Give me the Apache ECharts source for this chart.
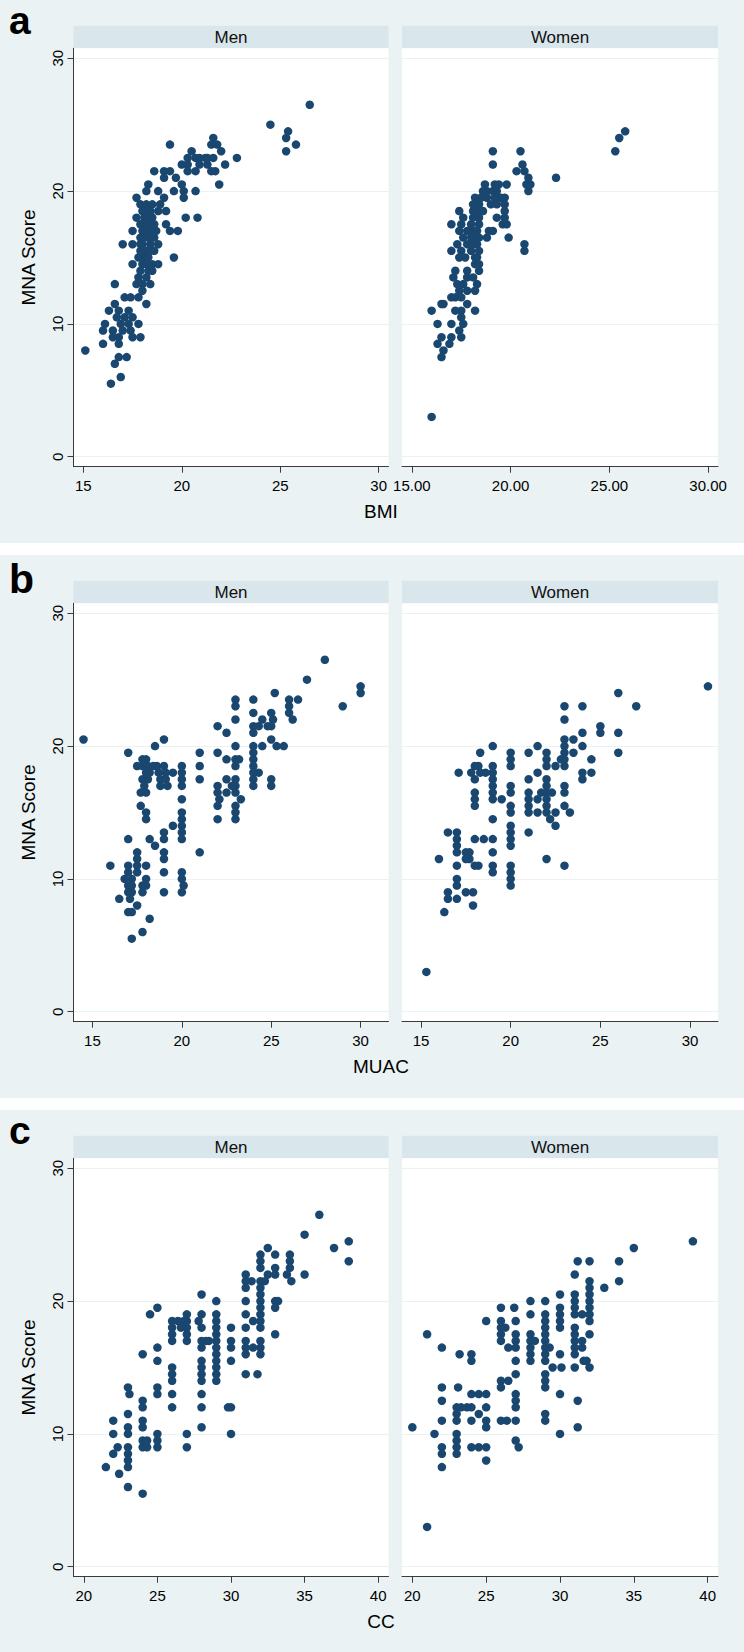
<!DOCTYPE html>
<html><head><meta charset="utf-8">
<script src="https://cdn.jsdelivr.net/npm/echarts@6/dist/echarts.min.js"></script>
<style>html,body{margin:0;padding:0;background:#fff}#c{width:744px;height:1652px}</style>
</head><body><div id="c"></div>
<script>
// ---------- DATA ----------
const bmiMen = [[24.5,25],[19.4,23.5],[21.6,24],[21.5,23.5],[21.8,23.5],[22.0,23],[20.5,23],[22.8,22.5],
[20.3,22.5],[20.7,22.5],[20.9,22.5],[21.2,22.5],[21.3,22.5],[21.6,22.5],
[20.0,22],[20.3,22],[20.9,22],[21.3,22],[22.2,22],
[18.6,21.5],[19.1,21.5],[19.4,21.5],[20.3,21.5],[20.7,21.5],[21.5,21.5],[21.7,21.5],
[19.1,21],[19.7,21],[18.3,20.5],[20.0,20.5],[21.9,20.5],
[18.2,20],[18.8,20],[19.6,20],[20.1,20],[20.7,20],
[17.7,19.5],[19.1,19.5],[20.1,19.5],[17.9,19],[18.2,19],[18.5,19],[18.9,19],
[18.0,18.5],[18.3,18.5],[18.4,18.5],[18.8,18.5],[19.2,18.5],
[17.7,18],[18.1,18],[18.2,18],[18.5,18],[20.2,18],[20.8,18],
[17.9,17.5],[18.0,17.5],[18.3,17.5],[18.6,17.5],[19.2,17.5],
[17.5,17],[18.0,17],[18.2,17],[18.4,17],[18.7,17],[19.4,17],[19.8,17],
[17.9,16.5],[18.1,16.5],[18.3,16.5],[18.6,16.5],
[17.0,16],[17.5,16],[17.9,16],[18.0,16],[18.4,16],[18.8,16],
[17.9,15.5],[18.2,15.5],[18.4,15.5],[18.6,15.5],
[17.8,15],[18.1,15],[18.3,15],[19.6,15],
[17.5,14.5],[18.0,14.5],[18.2,14.5],[18.5,14.5],[18.8,14.5],
[17.9,14],[18.3,14],[18.5,14],[17.8,13.5],[18.2,13.5],
[16.6,13],[17.7,13],[18.0,13],[18.4,13],[18.0,12.5],
[17.1,12],[17.4,12],[17.8,12],[18.2,11.5],[16.6,11.5],
[16.3,11],[16.8,11],[17.3,11],[16.7,10.5],[17.1,10.5],[17.5,10.5],
[16.1,10],[16.9,10],[17.3,10],[17.8,10],
[16.0,9.5],[16.5,9.5],[17.0,9.5],[17.4,9.5],
[16.5,9],[16.8,9],[17.5,9],[17.9,9],[16.0,8.5],[16.8,8.5],
[15.1,8],[16.8,7.5],[17.2,7.5],[16.6,7],[16.9,6],[16.4,5.5],
[25.3,24],[25.4,24.5],[25.3,23],[25.8,23.5],[26.5,26.5]];

const bmiWomen = [[19.1,23],[20.5,23],[19.1,22],[20.6,22],[20.3,21.5],[20.7,21.5],[20.9,21],[20.8,20.5],[21.0,20.5],[20.9,20],[22.3,21],
[18.7,20.5],[19.2,20.5],[19.4,20.5],[19.8,20.5],
[18.6,20],[18.8,20],[19.1,20],[19.3,20],
[18.2,19.5],[18.5,19.5],[18.8,19.5],[19.2,19.5],[19.5,19.5],[19.7,19.5],
[18.1,19],[18.4,19],[19.0,19],[19.3,19],[19.7,19],
[17.4,18.5],[18.1,18.5],[18.2,18.5],[18.3,18.5],[18.6,18.5],[19.7,18.5],
[17.6,18],[18.1,18],[18.4,18],[19.3,18],[19.7,18],
[17.0,17.5],[17.5,17.5],[18.0,17.5],[18.4,17.5],[19.6,17.5],[19.8,17.5],
[17.4,17],[17.8,17],[17.9,17],[18.2,17],[18.3,17],[18.9,17],[19.1,17],
[17.6,16.5],[18.0,16.5],[18.1,16.5],[18.4,16.5],[18.8,16.5],[19.9,16.5],
[17.3,16],[17.8,16],[18.1,16],[18.3,16],[20.7,16],
[17.0,15.5],[17.5,15.5],[18.0,15.5],[18.4,15.5],[20.7,15.5],
[17.4,15],[17.7,15],[18.2,15],[18.3,15],[18.2,14.5],[18.4,14.5],
[17.2,14],[17.8,14],[18.4,14],[17.1,13.5],[17.8,13.5],[18.1,13.5],
[17.3,13],[17.6,13],[18.3,13],[17.4,12.5],[17.8,12.5],[18.2,12.5],
[17.0,12],[17.2,12],[17.5,12],[16.5,11.5],[16.6,11.5],[17.8,11.5],
[16.0,11],[17.2,11],[17.5,11],[18.2,11],[17.5,10.5],
[16.3,10],[17.0,10],[17.6,10],[17.4,9.5],
[16.5,9],[17.0,9],[17.5,9],[16.3,8.5],[16.9,8.5],[16.6,8],[16.5,7.5],
[16.0,3],[25.3,23],[25.5,24],[25.8,24.5]];

const muacMen = [[14.5,20.5],[28,26.5],[27,25],[30,24.5],[30,24],[29,23],[25.2,24],
[16,11],[16.5,8.5],[17,19.5],[17,13],
[17.5,12],[17.5,11.5],[17,11],[17.5,11],[18,11],[16.8,10],[17,10.5],[17.2,10],[17.5,10.5],[18,10],
[17,9.5],[17.2,9.5],[17.8,9.5],[18,9.5],[17,9],[17.2,9],[17.8,9],[17.1,8.5],[17,7.5],[17.2,7.5],[17.5,8],[18.2,7],[17.8,6],[17.2,5.5],
[17.8,19],[18,19],[17.5,18.5],[17.8,18.5],[18.1,18.5],[18.4,18.5],[18.6,18.5],[19,18.5],
[18,18],[18.2,18],[18.7,18],[19.1,18],[19.5,18],[17.8,17.5],[18.1,17.5],[18.8,17.5],[19.1,17.5],
[17.9,17],[18.8,17],[19.2,17],[17.7,16.5],[18,16.5],[17.7,15.5],[18,15],[18,14.5],
[18.5,20],[19,20.5],
[20,18.5],[20,18],[20,17.5],[20,17],[20,16],[20,15],[20,14.5],[20,14],[20,13.5],[20,13],[20,10.5],[20,10],[20.1,9.5],[20,9],
[19.5,14],[19,13.5],[19,13],[19,12],[19,11.5],[19,10.5],[19,9],[18.2,13],[18.5,12.5],
[21,19.5],[21,18.5],[21,17.5],[21,12],
[22,21.5],[22,19.5],[22,17],[22,16.5],[22.1,16],[22,15.5],[22,14.5],
[22.5,21],[22.5,19],[22.5,17.5],[22.5,16.5],
[23,23.5],[23,23],[23,22],[23,20],[23,19],[23,18.5],[23,17.5],[23,17],[23,16.5],[23,15.5],[23,15],[23,14.5],[23.3,16],[22.8,17],[23.2,19],
[24,23.5],[24,22.5],[24,21.5],[24,21],[24,20],[24,19.5],[24,19],[24,18.5],[24,18],[24,17.5],[24,17],[24.3,18],[24.5,20],[24.3,21.5],[24.5,22],[24.8,21.5],
[25,22.5],[25.1,22],[25,21.5],[25,20.5],[25.3,20],[25,17.5],[25,17],[25.7,20],
[26,23.5],[26,23],[26,22.5],[26.2,22],[26.5,23.5]];

const muacWomen = [[15.3,3],[31,24.5],[26,24],[27,23],[26,21],[26,19.5],[25,21.5],[25,21],
[24,23],[24,21],[24,20],[24.5,19],[24,18],[24.5,18],[24,17.5],
[23,23],[23,22],[23,20.5],[23,20],[23,19.5],[23,19],[23,18.5],[23.5,20.5],[23.5,19.5],[23,17],[23,16.5],[23,15.5],[23.3,15],[23,11],
[22.8,19],[22.5,18.5],
[22,19.5],[22,19],[22,18.5],[22,17.5],[22,17],[22,16.5],[22,16],[22,15.5],[22,15],[22.2,14.5],[22.5,14],[22,11.5],
[21.5,20],[21.5,18],[21.7,16.5],[22.3,16.5],[21.5,15],[22.5,15],
[21,19.5],[21,17.5],[21,16.5],[21,16],[21,15.5],[21,15],[21,13.5],[21.5,16],
[20,19.5],[20,19],[20,18.5],[20,17],[20,16.5],[20,15.5],[20,15],[20,14],[20,13.5],[20,13],[20,12.5],[20,11],[20,10.5],[20,10],[20,9.5],[19.5,16],
[19,20],[19,18.5],[19,18],[19,17.5],[19,17],[19,16.5],[19,16],[19,14.5],[19,13],[19,12],[19,11],[19,10.5],[18.3,19.5],
[18,18.5],[18.2,18.5],[17.8,18],[18.3,18],[18.6,18],[18,17.5],[18,16.5],[18,16],[18,15.5],[18,13],[18.5,13],[17.7,12],[17.7,11.5],[18,11],[18.2,11],[17.9,9],[17.9,8],[17.1,18],
[17,13.5],[17,13],[17,12.5],[17,12],[17,11],[17.5,12],[17.5,11.5],[17,10],[17,9.5],[17,8.5],[17.5,9],[16.5,9],[16.5,8.5],[16.5,13.5],[16,11.5],[16.3,7.5]];

const ccMen = [[36,26.5],[35,25],[37,24],[38,24.5],[38,23],[35,22],
[32.5,24],[32,23.5],[33,23.5],[32,23],[32,22.5],[33,22.5],[32.5,22],[33,22],
[34,23.5],[34,23],[34,22.5],[33.8,22],[34.1,21.5],
[31,22],[31,21.5],[31.4,21.5],[31,21],[31,20],[31,19],[31,18],[31,17],[31,16.5],[31,16],[31,14.5],
[32,21.5],[32.3,21.5],[32,21],[32,20.5],[32,20],[32,19.5],[32,19],[32,18.5],[32,18],[32,17],[32,16.5],[32,16],[31.8,14.5],[31.5,18.5],[31.5,16.5],
[33,20],[33.2,20],[33,19.5],[33,17.5],
[30,18],[30,17],[30,16.5],[30,15.5],[30,12],[30,10],
[29,20],[29,19],[29,18.5],[29,18],[29,17.5],[29,17],[29,16.5],[29,16],[29,15.5],[29,15],[29,14.5],[29,14],[28.5,17],
[28,20.5],[28,19],[27.8,18.5],[28,18],[28,17],[28,16.5],[28,15.5],[28,15],[28,14.5],[28,14],[28,13],[28,12],[28,10.5],[28.3,17],[29.8,12],
[27,19],[27,18.5],[27,18],[27,17.5],[27,17],[26.8,18.5],[27,10],[27,9],
[26,18.5],[26,18],[26,17.5],[26,17],[26.4,18.5],[26.6,18],[26,15],[26,14.5],[26,14],[26,13],[26,12],
[25,19.5],[24.5,19],[25,16.5],[25,15.5],[25,13.5],[25,13],[25,10],[25,9.5],[25,9],
[24,16],[24,12.5],[24,12],[24,11],[24,10.5],[24,9.5],[24,9],[24.3,9.5],[24.3,9],[24,5.5],
[23,13.5],[23.1,13],[23,11.5],[23,10.5],[23,10],[23,9],[23,8.5],[23,8],[23,7.5],[23,6],
[22,11],[22,10],[22.3,9],[22,8.5],[22.4,7],[21.5,7.5]];

const ccWomen = [[39,24.5],[35,24],[34,23],[34,21.5],[33,21],[31.2,23],[32,23],[31,22],
[32,21.5],[32,21],[32,20.5],[32,20],[32,19.5],[32,19],[32,18.5],[32,17.5],[32,15],
[31,20.5],[31,20],[31,19.5],[31,19],[31,18],[31,17.5],[31,17],[31,16.5],[31,16],[31,15],[31.2,12.5],[31.2,10.5],[31.5,19],[31.5,17],[31.5,16.5],[31.6,15.5],[31.8,15.5],
[30,20.5],[30,19.5],[30,19],[30,18.5],[30,18],[30,16],[29.5,15],[30.1,15],[30,13],[30,10],
[29,20],[29,19],[29,18.5],[29,18],[29,17.5],[29,17],[29,16.5],[29,16],[29,15.5],[29,14.5],[29,14],[29,13.5],[29,11.5],[29,11],[29.3,16.5],
[28,20],[28,19],[28,17.5],[28,17],[28,16.5],[28,16],[28,15.5],[28.3,17],
[26.9,19.5],[27,18.5],[27,17.5],[27,17],[26.5,16.5],[27,16.5],[27,15.5],[27,14.5],[26.5,14],[26,14],[26,13.5],[27,13],[27,12.5],[27,12],[27,11],[26.4,11],[26,11],[27,9.5],[27.2,9],
[26,19.5],[26,18.5],[26,18],[26,17.5],[26,17],[26.3,18],
[25,18.5],[25,13],[25,12],[25,11],[25,10.5],[25,9],[25,8],[24.5,13],[24,13],[24.5,11.5],[24.5,9],[24,9],
[24,16],[24,15.5],[24,12],[24,11],
[23.2,16],[23.1,13.5],[23,12],[23.3,12],[23.7,12],[23,11.5],[23,11],[23,10],[23,9.5],[23,9],[23,8.5],
[22,16.5],[22,13.5],[22,12.5],[22,11],[22,9],[22,8.5],[22,7.5],
[21,17.5],[21,3],[20,10.5],[21.5,10]];

const yTickValues = [0, 10, 20, 30];
const bmiTicks = [15, 20, 25, 30];
const muacTicks = [15, 20, 25, 30];
const ccTicks = [20, 25, 30, 35, 40];
const panelLetters = ['a', 'b', 'c'];
const xTitles = ['BMI', 'MUAC', 'CC'];
const facetNames = ['Men', 'Women'];
const yTitle = 'MNA Score';

// ---------- LAYOUT ----------
const FONT = '"Liberation Sans", Arial, Helvetica, sans-serif';
const BG = '#eaf2f3', STRIP = '#d9e6eb', MARK = '#1a476f', AXIS = '#3a3a3a';
const panels = [
  {men: bmiMen, women: bmiWomen, ticks: bmiTicks, range: [14.5, 30.5], womenFmt: v => Number(v).toFixed(2)},
  {men: muacMen, women: muacWomen, ticks: muacTicks, range: [13.94, 31.56]},
  {men: ccMen, women: ccWomen, ticks: ccTicks, range: [19.3, 40.7]}
];
const letterMid = [20.5, 24, 20.5];
const letterSize = [39, 41, 39];
const cols = [{left: 73.5, width: 315}, {left: 402, width: 316}];
const grids = [], xAxes = [], yAxes = [], series = [], graphics = [];

panels.forEach((p, i) => {
  const off = i * 555;
  const top = off + 48.3, h = 418.4;
  graphics.push({type: 'rect', z: -5, silent: true, shape: {x: 0, y: off, width: 744, height: i === 2 ? 542 : 543}, style: {fill: BG}});
  graphics.push({type: 'text', z: 10, silent: true, x: 9, y: off + letterMid[i],
    style: {text: panelLetters[i], font: 'bold ' + letterSize[i] + 'px ' + FONT, lineHeight: 28, fill: '#000', textAlign: 'left', textVerticalAlign: 'middle'}});
  graphics.push({type: 'text', z: 10, silent: true, x: 28.4, y: off + 257.5, rotation: Math.PI / 2,
    style: {text: yTitle, font: '19px ' + FONT, fill: '#000', textAlign: 'center', textVerticalAlign: 'middle'}});
  graphics.push({type: 'text', z: 10, silent: true, x: 381, y: off + 511.7,
    style: {text: xTitles[i], font: '19px ' + FONT, fill: '#000', textAlign: 'center', textVerticalAlign: 'middle'}});
  cols.forEach((c, j) => {
    const gi = grids.length;
    graphics.push({type: 'rect', z: -4, silent: true, shape: {x: c.left, y: off + 25.7, width: c.width, height: 22.6}, style: {fill: STRIP}});
    graphics.push({type: 'rect', z: -4, silent: true, shape: {x: c.left, y: top, width: c.width, height: h}, style: {fill: '#ffffff'}});
    graphics.push({type: 'text', z: 10, silent: true, x: c.left + c.width / 2, y: off + 37,
      style: {text: facetNames[j], font: '17px ' + FONT, fill: '#111', textAlign: 'center', textVerticalAlign: 'middle'}});
    grids.push({left: c.left, top: top, width: c.width, height: h, containLabel: false});
    const fmt = (j === 1 && p.womenFmt) ? p.womenFmt : (v => String(v));
    xAxes.push({gridIndex: gi, type: 'value', min: p.range[0], max: p.range[1],
      axisLine: {show: true, onZero: false, lineStyle: {color: AXIS, width: 1}},
      axisTick: {show: true, length: 6, customValues: p.ticks, lineStyle: {color: AXIS}},
      axisLabel: {show: true, customValues: p.ticks, margin: 11, fontSize: 15, fontFamily: FONT, color: '#000', formatter: fmt},
      splitLine: {show: false}});
    yAxes.push({gridIndex: gi, type: 'value', min: -0.75, max: 30.75,
      axisLine: {show: j === 0, onZero: false, lineStyle: {color: AXIS, width: 1}},
      axisTick: {show: j === 0, length: 6, customValues: yTickValues, lineStyle: {color: AXIS}},
      axisLabel: {show: j === 0, customValues: yTickValues, rotate: 90, margin: 9, fontSize: 15, fontFamily: FONT, color: '#000'},
      splitLine: {show: true, lineStyle: {color: BG, width: 1.2}}});
    series.push({type: 'scatter', xAxisIndex: gi, yAxisIndex: gi, data: j === 0 ? p.men : p.women,
      symbol: 'circle', symbolSize: 8.5, itemStyle: {color: MARK, opacity: 1}, silent: true, z: 3});
  });
});

const chart = echarts.init(document.getElementById('c'), null, {renderer: 'svg', width: 744, height: 1652});
chart.setOption({
  backgroundColor: '#ffffff',
  animation: false,
  textStyle: {fontFamily: FONT},
  grid: grids, xAxis: xAxes, yAxis: yAxes, series: series,
  graphic: {elements: graphics}
});
</script>
</body></html>
